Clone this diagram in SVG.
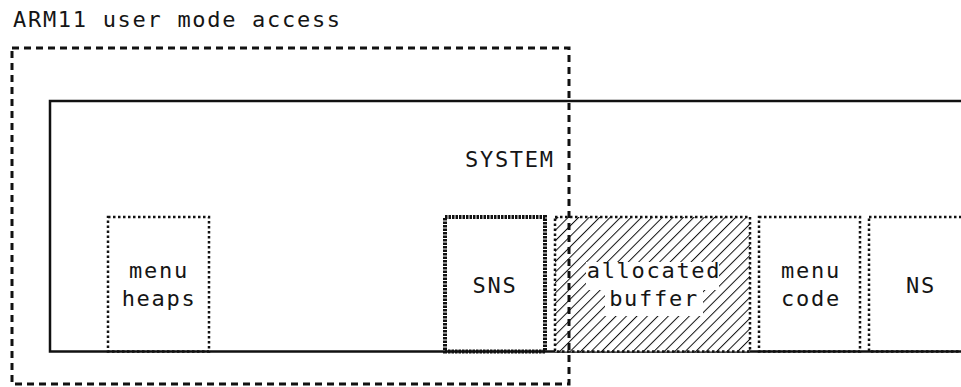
<svg xmlns="http://www.w3.org/2000/svg" width="961" height="387" viewBox="0 0 961 387">
  <style>
    .lbl { font-family: "DejaVu Sans Mono", "Liberation Mono", monospace; font-size: 22px; letter-spacing: 1.7px; fill: #151515; }
    .mid { text-anchor: middle; }
    .system { fill: none; stroke: #111; stroke-width: 2.5; }
    .dotted { fill: none; stroke: #111; stroke-width: 2.5; stroke-dasharray: 2.5 2.5; }
    .dense { fill: none; stroke: #111; stroke-width: 4; stroke-dasharray: 2.5 1; }
    .region { fill: none; stroke: #111; stroke-width: 3; stroke-dasharray: 7 5; }
  </style>
  <defs>
    <pattern id="hatch" width="7.4" height="7.4" patternUnits="userSpaceOnUse" patternTransform="rotate(45)">
      <rect width="7.4" height="7.4" fill="#fff"/>
      <line x1="0" y1="0" x2="0" y2="7.4" stroke="#111" stroke-width="2"/>
    </pattern>
  </defs>
  <rect width="961" height="387" fill="#fff"/>

  <text class="lbl" x="13" y="27">ARM11 user mode access</text>

  <g id="system">
    <rect class="system" x="50" y="101" width="930" height="250.5"/>
    <text class="lbl" x="465" y="167">SYSTEM</text>
  </g>

  <g id="menu-heaps">
    <rect class="dotted" x="108" y="217" width="101" height="134.5"/>
    <text class="lbl mid" x="159" y="278">menu</text>
    <text class="lbl mid" x="159" y="306">heaps</text>
  </g>

  <g id="sns">
    <rect class="dense" x="445" y="217" width="100" height="134.5"/>
    <text class="lbl mid" x="495" y="293">SNS</text>
  </g>

  <g id="allocated-buffer">
    <rect x="555" y="217" width="195" height="134.5" fill="url(#hatch)"/>
    <rect class="dotted" x="555" y="217" width="195" height="134.5" stroke-width="2"/>
    <rect x="586" y="262" width="133" height="28" fill="#fff"/>
    <rect x="605" y="290" width="98" height="26" fill="#fff"/>
    <text class="lbl mid" x="654" y="278">allocated</text>
    <text class="lbl mid" x="654" y="306">buffer</text>
  </g>

  <g id="menu-code">
    <rect class="dotted" x="759" y="217" width="101" height="134.5"/>
    <text class="lbl mid" x="811" y="278">menu</text>
    <text class="lbl mid" x="811" y="306">code</text>
  </g>

  <g id="ns">
    <rect class="dotted" x="869" y="217" width="110" height="134.5"/>
    <text class="lbl mid" x="921" y="293">NS</text>
  </g>

  <g id="connectors"></g>

  <g id="user-mode-region">
    <rect class="region" x="12" y="48" width="557" height="336"/>
  </g>
</svg>
